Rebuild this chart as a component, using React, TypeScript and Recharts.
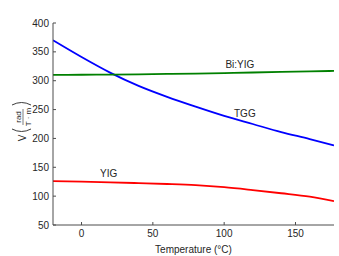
import { LineChart, Line, XAxis, YAxis, ReferenceDot } from "recharts";

const temperatures = [-20, 0, 20, 40, 60, 80, 100, 120, 140, 160, 177];
const tgg = [370, 341, 314, 291, 272, 255, 239, 225, 211, 199, 188];
const biYig = [310, 310.3, 310.6, 311, 311.7, 312.4, 313.3, 314.2, 315.2, 316.2, 317];
const yig = [126, 125, 124, 122.5, 121, 119, 115.5, 110.5, 105, 99, 91.5];

const xTicks = [0, 50, 100, 150];
const yTicks = [50, 100, 150, 200, 250, 300, 350, 400];

const seriesLabels = [
  { text: "Bi:YIG", x: 111, y: 329 },
  { text: "TGG", x: 114.5, y: 244 },
  { text: "YIG", x: 19, y: 140 },
];

const data = temperatures.map((t, i) => ({ t, tgg: tgg[i], biYig: biYig[i], yig: yig[i] }));

const font = "'Liberation Sans', Arial, sans-serif";
const axisColor = "#4d4d4d";
const textColor = "#262626";

function XTick({ x, y, payload }: any) {
  return (
    <g>
      <line x1={x} x2={x} y1={y - 5} y2={y - 8} stroke={axisColor} strokeWidth={1} />
      <text x={x} y={y} dy="0.71em" textAnchor="middle" fontSize={10} fill={textColor} fontFamily={font}>
        {payload.value}
      </text>
    </g>
  );
}

function YTick({ x, y, payload }: any) {
  return (
    <g>
      <line x1={x + 4} x2={x + 7} y1={y} y2={y} stroke={axisColor} strokeWidth={1} />
      <text x={x} y={y} dy="0.355em" textAnchor="end" fontSize={10} fill={textColor} fontFamily={font}>
        {payload.value}
      </text>
    </g>
  );
}

export default function App() {
  return (
    <div style={{ position: "absolute", left: 0, top: 0, width: 339, height: 256, background: "#fff" }}>
      <LineChart width={339} height={256} data={data} margin={{ top: 23, right: 5, left: 0, bottom: 0 }}>
        <XAxis
          dataKey="t"
          type="number"
          domain={[-20, 177]}
          ticks={xTicks}
          allowDataOverflow
          height={31}
          tickSize={0}
          tickMargin={5}
          tick={<XTick />}
          stroke={axisColor}
          label={{ value: "Temperature (°C)", position: "insideBottom", offset: 3, fontSize: 10, fill: textColor, fontFamily: font }}
        />
        <YAxis
          type="number"
          domain={[50, 400]}
          ticks={yTicks}
          allowDataOverflow
          width={53}
          tickSize={0}
          tickMargin={4}
          tick={<YTick />}
          stroke={axisColor}
        />
        <Line type="monotone" dataKey="tgg" stroke="#0000ff" strokeWidth={1.8} dot={false} isAnimationActive={false} />
        <Line type="monotone" dataKey="biYig" stroke="#008000" strokeWidth={1.8} dot={false} isAnimationActive={false} />
        <Line type="monotone" dataKey="yig" stroke="#ff0000" strokeWidth={1.8} dot={false} isAnimationActive={false} />
        {seriesLabels.map((l) => (
          <ReferenceDot
            key={l.text}
            x={l.x}
            y={l.y}
            r={0}
            stroke="none"
            label={{ value: l.text, position: "center", fontSize: 10, fill: textColor, fontFamily: font }}
          />
        ))}
      </LineChart>
      <svg width={339} height={256} style={{ position: "absolute", left: 0, top: 0, pointerEvents: "none" }}>
        <g transform="translate(23,117) rotate(-90)" fontFamily={font} fill={textColor}>
          <text x={-21} y={2.5} textAnchor="middle" fontSize={10}>V</text>
          <path d="M -12 -11 Q -17 -1.5 -12 8" fill="none" stroke={textColor} strokeWidth={0.9} />
          <text x={0} y={-2} textAnchor="middle" fontSize={8}>rad</text>
          <line x1={-8} x2={8} y1={0} y2={0} stroke={textColor} strokeWidth={0.6} />
          <text x={0} y={7.5} textAnchor="middle" fontSize={8}>T · m</text>
          <path d="M 12 -11 Q 17 -1.5 12 8" fill="none" stroke={textColor} strokeWidth={0.9} />
        </g>
      </svg>
    </div>
  );
}
